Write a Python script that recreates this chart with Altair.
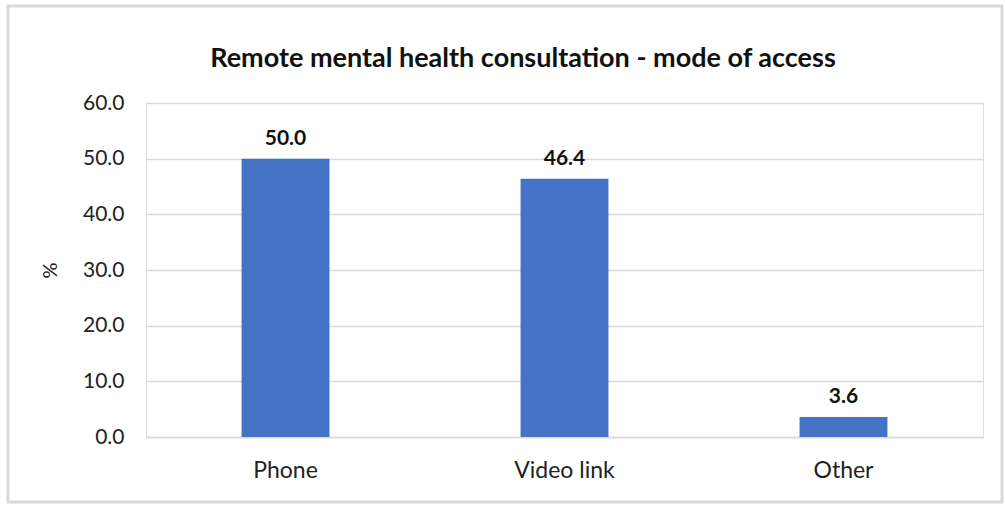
import altair as alt
import pandas as pd

categories = ["Phone", "Video link", "Other"]
values = [50.0, 46.4, 3.6]
title_text = "Remote mental health consultation - mode of access"

df = pd.DataFrame({"mode": categories, "pct": values})

FONT = "Lato"

base = alt.Chart(df)

x = alt.X("mode:N", sort=categories, title=None,
          scale=alt.Scale(paddingInner=0.685, paddingOuter=0.3425),
          axis=alt.Axis(labelAngle=0, labelFont=FONT, labelFontSize=23, labelColor="#222222",
                        domain=True, domainColor="#d9d9d9", domainWidth=1.5,
                        ticks=False, labelBaseline="alphabetic", labelPadding=40))
y = alt.Y("pct:Q", title="%",
          scale=alt.Scale(domain=[0, 60]),
          axis=alt.Axis(values=[0, 10, 20, 30, 40, 50, 60], format=".1f",
                        labelFont=FONT, labelFontSize=21, labelColor="#222222",
                        titleFont=FONT, titleFontSize=20, titleFontWeight="normal",
                        titleColor="#222222", titlePadding=22,
                        grid=True, gridColor="#d9d9d9", gridWidth=1.5,
                        domain=False, ticks=False, labelPadding=22))

bars = base.mark_bar(color="#4472C4").encode(x=x, y=y)

labels = base.mark_text(baseline="alphabetic", dy=-14, font=FONT, fontSize=21,
                        fontWeight="bold", color="#111111").encode(
    x=alt.X("mode:N", sort=categories),
    y="pct:Q",
    text=alt.Text("pct:Q", format=".1f"),
)

title = alt.Chart(pd.DataFrame({"t": [title_text]})).mark_text(
    font=FONT, fontSize=27, fontWeight="bold", color="#111111",
    align="center", baseline="alphabetic"
).encode(x=alt.value(377), y=alt.value(-36), text="t:N")

frame = alt.Chart(pd.DataFrame({"a": [0]})).mark_rect(
    fill=None, stroke="#d9d9d9", strokeWidth=3
).encode(x=alt.value(-138), x2=alt.value(856), y=alt.value(-97), y2=alt.value(399))

chart = alt.layer(frame, bars, labels, title).properties(
    width=837, height=334,
    padding={"left": 146, "top": 103, "right": 22, "bottom": 71},
    autosize=alt.AutoSizeParams(type="none"),
).configure_view(stroke=None).configure(background="white")

chart.save("out.html", embed_options={"renderer": "svg", "actions": False})
